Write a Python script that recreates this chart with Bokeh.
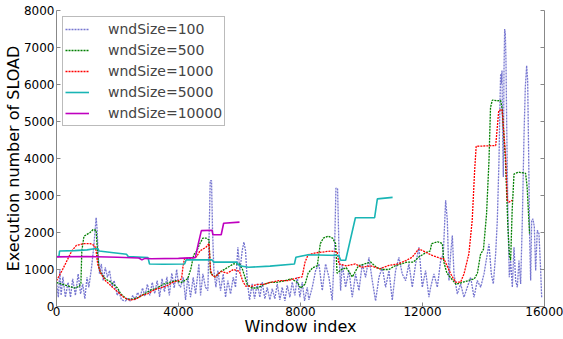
from bokeh.plotting import figure
from bokeh.models import Range1d, LinearAxis, Legend, LegendItem, FixedTicker
from bokeh.embed import file_html
from bokeh.resources import INLINE

labels = ["wndSize=100", "wndSize=500", "wndSize=1000", "wndSize=5000", "wndSize=10000"]
x_ticks = [0, 4000, 8000, 12000, 16000]
y_ticks = [0, 1000, 2000, 3000, 4000, 5000, 6000, 7000, 8000]

# wndSize=100
w100_x = [0, 60, 110, 150, 210, 290, 380, 460, 530, 620, 710, 790, 860, 930, 1000, 1060, 1150, 1220, 1300, 1330,
          1370, 1410, 1470, 1530, 1600, 1670, 1740, 1820, 1890, 1990, 2040, 2130, 2260, 2340, 2420, 2500, 2580, 2660,
          2740, 2820, 2900, 2980, 3060, 3140, 3220, 3300, 3380, 3460, 3540, 3620, 3700, 3780, 3860, 3940, 4000,
          4067, 4155, 4231, 4307, 4395, 4482, 4559, 4668, 4723, 4799, 4887, 4963, 5007, 5040, 5083, 5116, 5160,
          5226, 5291, 5379, 5466, 5543, 5619, 5707, 5794, 5870, 5947, 6013, 6089, 6144, 6198, 6253, 6330, 6417,
          6494, 6581, 6668, 6745, 6832, 6909, 6996, 7073, 7160, 7237, 7324, 7401, 7488, 7565, 7652, 7729, 7816,
          7893, 7980, 8057, 8133, 8220, 8276, 8386, 8495, 8604, 8714, 8823, 8932, 9041, 9118, 9162, 9216, 9260,
          9315, 9369, 9479, 9588, 9697, 9807, 9916, 10025, 10134, 10244, 10353, 10462, 10572, 10681, 10790, 10900,
          11009, 11118, 11227, 11337, 11446, 11555, 11665, 11774, 11883, 11993, 12102, 12211, 12267, 12376, 12486,
          12595, 12682, 12759, 12814, 12868, 12923, 12978, 13032, 13141, 13251, 13360, 13469, 13579, 13688, 13797,
          13907, 14016, 14125, 14180, 14256, 14322, 14398, 14453, 14508, 14540, 14562, 14584, 14606, 14628, 14650,
          14672, 14694, 14715, 14737, 14759, 14803, 14846, 14890, 14945, 15000, 15054, 15109, 15163, 15218, 15273,
          15327, 15371, 15415, 15448, 15480, 15513, 15546, 15579, 15622, 15666, 15710, 15764, 15819, 15874, 15907]
w100_y = [650, 250, 1000, 300, 800, 250, 650, 250, 750, 300, 880, 340, 610, 210, 790, 520, 1060, 1600, 2400, 2100,
          1330, 880, 1150, 700, 1060, 790, 970, 520, 700, 300, 430, 180, 150, 220, 150, 300, 180, 380,
          250, 500, 280, 600, 300, 650, 350, 700, 260, 750, 400, 800, 300, 900, 500, 1000, 600,
          520, 790, 180, 790, 250, 790, 340, 1150, 300, 880, 520, 430, 2050, 3400, 3400, 2050, 970,
          520, 970, 430, 880, 250, 700, 340, 790, 520, 1600, 970, 1510, 1740, 1510, 700, 180, 610,
          210, 610, 250, 660, 210, 520, 180, 480, 210, 610, 180, 520, 150, 570, 250, 660, 300,
          790, 250, 660, 150, 520, 180, 520, 970, 1150, 430, 1150, 790, 170, 1600, 3200, 3180, 1600,
          430, 1150, 520, 970, 250, 880, 430, 1150, 790, 1330, 700, 150, 790, 1060, 520, 970,
          170, 970, 1330, 880, 700, 1150, 520, 1150, 1600, 520, 970, 250, 520, 880, 520,
          1240, 1420, 2870, 2330, 700, 1420, 1920, 880, 340, 610, 250, 520, 790, 250, 700,
          520, 880, 1420, 1690, 880, 610, 1420, 2330, 3950, 5480, 6290, 6020, 6380, 4580, 3500,
          6380, 7500, 7370, 6650, 5030, 2330, 790, 1240, 520, 1600, 700, 520, 1240, 610, 2330,
          4580, 5930, 6510, 6110, 4130, 1880, 700, 2330, 2370, 2150, 970, 2060, 1970, 970, 250]

# wndSize=500
w500_x = [0, 200, 400, 600, 750, 800, 830, 900, 1000, 1100, 1200, 1300, 1350, 1400, 1500, 1600, 1800, 2000, 2100,
          2300, 2500, 2700, 2900, 3100, 3300, 3500, 3700, 3900, 4100, 4300, 4400, 4500, 4600, 4700, 4800, 4900,
          5000, 5050, 5200, 5400, 5600, 5800, 6000, 6100, 6250, 6400, 6600, 6800, 7000, 7200, 7500, 7700, 7900,
          8000, 8150, 8250, 8400, 8550, 8650, 8750, 8900, 9050, 9150, 9200, 9350, 9500, 9700, 9900, 10100, 10300,
          10500, 10700, 10900, 11100, 11300, 11500, 11700, 11900, 12100, 12250, 12300, 12500, 12650, 12700, 12800,
          12950, 13100, 13300, 13500, 13700, 13800, 13900, 14000, 14100, 14180, 14230, 14290, 14450, 14560, 14610,
          14720, 14800, 14850, 14890, 14940, 15000, 15150, 15380, 15430, 15510]
w500_y = [650, 600, 550, 500, 550, 620, 1500, 1900, 1950, 2000, 2080, 2060, 1400, 1000, 850, 750, 650, 500, 350,
          200, 200, 250, 350, 450, 500, 600, 650, 700, 650, 750, 1000, 1400, 1500, 1700, 1850, 1850,
          1800, 900, 800, 950, 1050, 1150, 1150, 1000, 600, 500, 500, 600, 650, 650, 700, 750, 650,
          500, 600, 900, 1050, 1100, 1700, 1850, 1900, 1850, 1700, 900, 1000, 1050, 800, 1100, 1150, 1200,
          1050, 1000, 1000, 1100, 1150, 1200, 1200, 1350, 1450, 1500, 1700, 1750, 1700, 1200, 900,
          750, 600, 650, 700, 750, 900, 1400, 1550, 2500, 3950, 5380, 5580, 5560, 5570, 5350,
          3950, 2150, 1400, 1250, 2600, 3580, 3630, 3600, 3230, 1970]

# wndSize=1000
w1000_x = [0, 100, 200, 350, 500, 650, 900, 1100, 1250, 1300, 1350, 1450, 1600, 1800, 2000, 2200, 2400, 2600, 2800,
           3000, 3200, 3400, 3600, 3800, 4000, 4100, 4150, 4200, 4400, 4600, 4700, 4800, 4900, 5000, 5050, 5100,
           5200, 5400, 5600, 5800, 6000, 6100, 6200, 6400, 6600, 6800, 7000, 7300, 7600, 7800, 8050, 8150, 8250,
           8500, 8800, 9000, 9200, 9260, 9500, 9800, 10000, 10300, 10600, 10900, 11200, 11450, 11660, 11880,
           12100, 12320, 12600, 12700, 12920, 13080, 13250, 13360, 13520, 13630, 13710, 13760, 14400, 14500, 14610,
           14720, 14780, 14830, 14940]
w1000_y = [700, 850, 1000, 1250, 1500, 1650, 1700, 1700, 1650, 1500, 1150, 900, 700, 550, 400, 250, 170, 200, 300,
           350, 450, 500, 550, 650, 700, 750, 1100, 1300, 1300, 1350, 1500, 1550, 1600, 1700, 1000, 850,
           800, 950, 900, 1000, 950, 700, 550, 550, 600, 600, 650, 700, 700, 750, 800, 1200, 1400,
           1450, 1480, 1500, 1480, 1150, 1100, 1150, 1060, 1100, 1020, 1110, 1150, 1240, 1330, 1560,
           1470, 1380, 1300, 1290, 890, 660, 660, 880, 1420, 2330, 3680, 4330, 4350, 5300, 5320,
           4130, 2870, 2820, 2870]

# wndSize=5000
w5000_x = [0, 80, 100, 600, 1000, 1250, 1350, 1400, 1800, 2300, 2350, 3000, 3050, 3500, 4200, 4250, 5100, 5150,
           5900, 6000, 6300, 7000, 7800, 7850, 8250, 9250, 9320, 9480, 9800, 10430, 10520, 11020]
w5000_y = [1350, 1350, 1500, 1510, 1530, 1560, 1560, 1500, 1460, 1410, 1350, 1320, 1150, 1140, 1150, 1260, 1260, 1200,
           1200, 1100, 1060, 1090, 1150, 1330, 1400, 1380, 1250, 1250, 2400, 2400, 2910, 2950]

# wndSize=10000
w10000_x = [0, 1000, 2000, 2700, 2800, 2900, 3100, 4000, 4550, 4650, 4750, 5100, 5130, 5400, 5480, 6000]
w10000_y = [1340, 1350, 1330, 1310, 1260, 1300, 1290, 1300, 1320, 1700, 2050, 2060, 1940, 1940, 2250, 2280]

FONT = "DejaVu Sans"

p = figure(width=563, height=339, output_backend="svg", toolbar_location=None,
           x_range=Range1d(0, 16000), y_range=Range1d(0, 8000),
           min_border_left=56, min_border_right=19, min_border_top=10, min_border_bottom=33)
p.outline_line_color = None
p.xgrid.grid_line_color = None
p.ygrid.grid_line_color = None
p.background_fill_color = "white"
p.border_fill_color = "white"

r100 = p.line(w100_x, w100_y, line_color="#4848c0", line_alpha=0.75, line_width=1.3, line_dash="2 1")
r500 = p.line(w500_x, w500_y, line_color="#007f00", line_width=1.3, line_dash="2 1")
r1000 = p.line(w1000_x, w1000_y, line_color="#ff0000", line_width=1.3, line_dash="2 1")
r5000 = p.line(w5000_x, w5000_y, line_color="#19b5b5", line_width=1.6)
r10000 = p.line(w10000_x, w10000_y, line_color="#bf00bf", line_width=1.6)

for ax in (p.xaxis[0], p.yaxis[0]):
    ax.axis_line_color = "#888888"
    ax.major_tick_line_color = "#888888"
    ax.major_tick_in = 4
    ax.major_tick_out = 0
    ax.minor_tick_line_color = None
    ax.major_label_text_font = FONT
    ax.major_label_text_font_size = "12px"
    ax.major_label_text_color = "black"
    ax.axis_label_text_font = FONT
    ax.axis_label_text_font_size = "16px"
    ax.axis_label_text_font_style = "normal"
    ax.axis_label_text_color = "black"

p.xaxis[0].ticker = FixedTicker(ticks=x_ticks)
p.yaxis[0].ticker = FixedTicker(ticks=y_ticks)
p.xaxis[0].axis_label = "Window index"
p.yaxis[0].axis_label = "Execution number of SLOAD"
p.xaxis[0].major_label_standoff = 0
p.xaxis[0].axis_label_standoff = -2
p.yaxis[0].major_label_standoff = 2
p.yaxis[0].axis_label_standoff = -2

right = LinearAxis(ticker=FixedTicker(ticks=[], minor_ticks=y_ticks))
right.axis_line_color = "#888888"
right.minor_tick_line_color = "#888888"
right.minor_tick_in = 4
right.minor_tick_out = 0
right.major_tick_line_color = None
p.add_layout(right, "right")

legend = Legend(items=[
    LegendItem(label=labels[0], renderers=[r100]),
    LegendItem(label=labels[1], renderers=[r500]),
    LegendItem(label=labels[2], renderers=[r1000]),
    LegendItem(label=labels[3], renderers=[r5000]),
    LegendItem(label=labels[4], renderers=[r10000]),
], location="top_left")
legend.margin = 6
legend.padding = 2
legend.spacing = 1
legend.label_height = 20
legend.glyph_height = 20
legend.glyph_width = 24
legend.label_standoff = 19
legend.label_text_font = FONT
legend.label_text_font_size = "14px"
legend.border_line_color = "#777777"
legend.border_line_width = 1
legend.background_fill_alpha = 1
p.add_layout(legend)

open("out.html", "w").write(file_html(p, INLINE))
